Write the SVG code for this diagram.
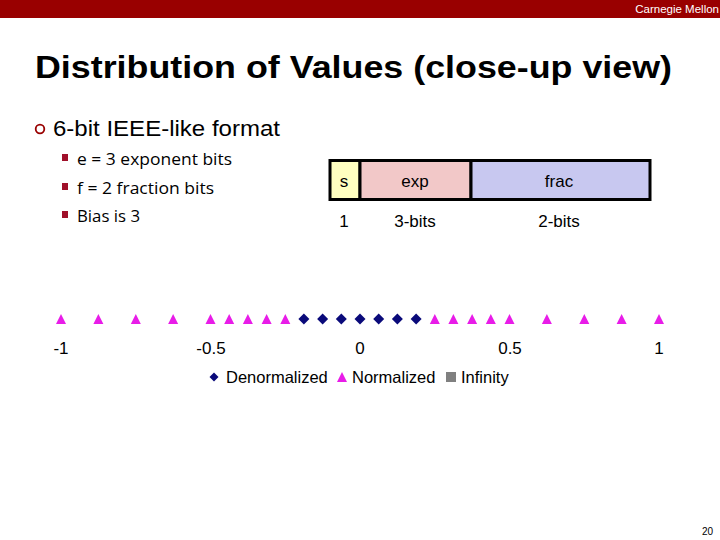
<svg xmlns="http://www.w3.org/2000/svg" xmlns:xlink="http://www.w3.org/1999/xlink" width="720" height="540" viewBox="0 0 720 540">
<style>
.sans{font-family:"Liberation Sans",Arial,sans-serif;}
.body{font-family:"Open Sans","Liberation Sans",sans-serif;font-size:15.5px;fill:#000;}
.lbl{font-family:"Liberation Sans",Arial,sans-serif;font-size:17px;fill:#000;text-anchor:middle;}
.leg{font-family:"Liberation Sans",Arial,sans-serif;font-size:16.5px;fill:#000;}
.tri{fill:#E81CE8;}
.dia{fill:#0A0A7A;}
.fld{stroke:#000;stroke-width:3;}
</style>
<defs>
<path id="t" class="tri" d="M0,-5 L5,5 L-5,5 Z"/>
<path id="d" class="dia" d="M0,-5.5 L5.5,0 L0,5.5 L-5.5,0 Z"/>
</defs>
<rect width="720" height="540" fill="#fff"/>
<g id="header">
<rect x="0" y="0" width="720" height="18" fill="#990000"/>
<text class="sans" x="719" y="13" font-size="11.5" fill="#fff" text-anchor="end">Carnegie Mellon</text>
</g>
<g id="title">
<text class="sans" x="35" y="78" font-size="32" font-weight="bold" textLength="637" lengthAdjust="spacingAndGlyphs">Distribution of Values (close-up view)</text>
</g>
<g id="bullets">
<circle cx="40" cy="129" r="4.3" fill="none" stroke="#990000" stroke-width="1.8"/>
<text class="sans" x="53" y="136" font-size="22" textLength="227" lengthAdjust="spacingAndGlyphs">6-bit IEEE-like format</text>
<rect x="62" y="154" width="6" height="7" fill="#A0102A"/>
<text class="body" x="77" y="165" textLength="155" lengthAdjust="spacingAndGlyphs">e = 3 exponent bits</text>
<rect x="62" y="183" width="6" height="7" fill="#A0102A"/>
<text class="body" x="77" y="194" textLength="137" lengthAdjust="spacingAndGlyphs">f = 2 fraction bits</text>
<rect x="62" y="211" width="6" height="7" fill="#A0102A"/>
<text class="body" x="77" y="222" textLength="63" lengthAdjust="spacingAndGlyphs">Bias is 3</text>
</g>
<g id="format">
<rect class="fld" x="330" y="160.5" width="30" height="39" fill="#FFFFC0"/>
<rect class="fld" x="360" y="160.5" width="111" height="39" fill="#F2C8C8"/>
<rect class="fld" x="471" y="160.5" width="179" height="39" fill="#C8C8F0"/>
<text class="lbl" x="344" y="187" font-size="19">s</text>
<text class="lbl" x="415" y="187" font-size="19">exp</text>
<text class="lbl" x="559" y="187" font-size="19">frac</text>
<text class="lbl" x="344" y="227" font-size="19">1</text>
<text class="lbl" x="415" y="227" font-size="19">3-bits</text>
<text class="lbl" x="559" y="227" font-size="19">2-bits</text>
</g>
<g id="points">
<use xlink:href="#t" x="61" y="319"/>
<use xlink:href="#t" x="98.4" y="319"/>
<use xlink:href="#t" x="135.8" y="319"/>
<use xlink:href="#t" x="173.1" y="319"/>
<use xlink:href="#t" x="210.5" y="319"/>
<use xlink:href="#t" x="229.2" y="319"/>
<use xlink:href="#t" x="247.9" y="319"/>
<use xlink:href="#t" x="266.6" y="319"/>
<use xlink:href="#t" x="285.3" y="319"/>
<use xlink:href="#d" x="303.9" y="319"/>
<use xlink:href="#d" x="322.6" y="319"/>
<use xlink:href="#d" x="341.3" y="319"/>
<use xlink:href="#d" x="360" y="319"/>
<use xlink:href="#d" x="378.7" y="319"/>
<use xlink:href="#d" x="397.4" y="319"/>
<use xlink:href="#d" x="416.1" y="319"/>
<use xlink:href="#t" x="434.8" y="319"/>
<use xlink:href="#t" x="453.4" y="319"/>
<use xlink:href="#t" x="472.1" y="319"/>
<use xlink:href="#t" x="490.8" y="319"/>
<use xlink:href="#t" x="509.5" y="319"/>
<use xlink:href="#t" x="546.9" y="319"/>
<use xlink:href="#t" x="584.3" y="319"/>
<use xlink:href="#t" x="621.6" y="319"/>
<use xlink:href="#t" x="659" y="319"/>
</g>
<g id="axis-labels">
<text class="lbl" x="61" y="354">-1</text>
<text class="lbl" x="211" y="354">-0.5</text>
<text class="lbl" x="360" y="354">0</text>
<text class="lbl" x="510" y="354">0.5</text>
<text class="lbl" x="659" y="354">1</text>
</g>
<g id="legend">
<path class="dia" d="M214,372.5 L218.5,377 L214,381.5 L209.5,377 Z"/>
<text class="leg" x="226" y="383">Denormalized</text>
<path class="tri" d="M342,372 L347,382 L337,382 Z"/>
<text class="leg" x="352" y="383">Normalized</text>
<rect x="446" y="372" width="10" height="10" fill="#808080"/>
<text class="leg" x="461" y="383">Infinity</text>
</g>
<g id="footer">
<text class="sans" x="713" y="535" font-size="10" text-anchor="end">20</text>
</g>
</svg>
